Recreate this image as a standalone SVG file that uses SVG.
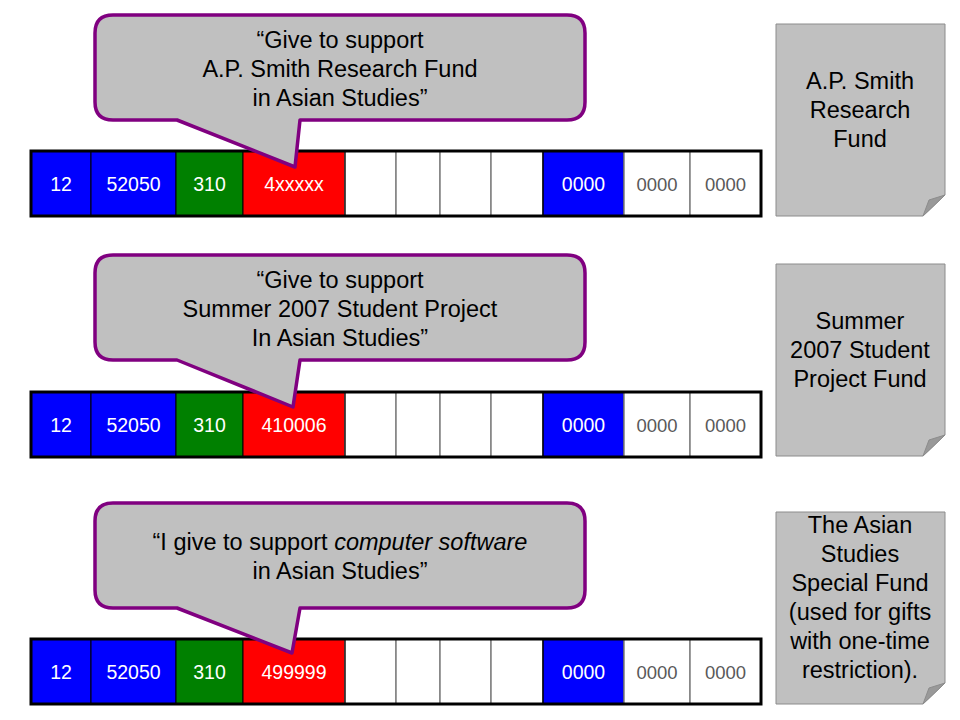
<svg xmlns="http://www.w3.org/2000/svg" width="960" height="720" viewBox="0 0 960 720">
<style>
.t{font-family:"Liberation Sans",Arial,sans-serif;text-anchor:middle}
.ct{font-size:19.5px;fill:#fff}
.cg{font-size:18.5px;fill:#595959}
.big{font-size:23.5px;fill:#000}
.blue{fill:#0000FF;stroke:#000;stroke-width:1}
.green{fill:#008000;stroke:#000;stroke-width:1}
.red{fill:#FF0000;stroke:#000;stroke-width:1}
.white{fill:#fff;stroke:#808080;stroke-width:1.5}
.frame{fill:none;stroke:#000;stroke-width:3}
.callout{fill:#C0C0C0;stroke:#800080;stroke-width:3.5;stroke-linejoin:round}
.note{fill:#C0C0C0;stroke:#8c8c8c;stroke-width:1}
.fold{fill:#999;stroke:#8c8c8c;stroke-width:1}
</style>
<defs>
<g id="cells">
<rect class="blue" x="31" y="0" width="60" height="65"/>
<rect class="blue" x="91" y="0" width="85" height="65"/>
<rect class="green" x="176" y="0" width="67" height="65"/>
<rect class="red" x="243" y="0" width="102" height="65"/>
<rect class="white" x="345" y="0" width="51" height="65"/>
<rect class="white" x="396" y="0" width="44" height="65"/>
<rect class="white" x="440" y="0" width="51" height="65"/>
<rect class="white" x="491" y="0" width="52" height="65"/>
<rect class="blue" x="543" y="0" width="81" height="65"/>
<rect class="white" x="624" y="0" width="66" height="65"/>
<rect class="white" x="690" y="0" width="71" height="65"/>
<line x1="345" y1="0" x2="345" y2="65" stroke="#000" stroke-width="1"/>
<line x1="543" y1="0" x2="543" y2="65" stroke="#000" stroke-width="1"/>
<rect class="frame" x="31" y="0" width="730" height="65"/>
<text class="t ct" x="61" y="40">12</text>
<text class="t ct" x="133.5" y="40">52050</text>
<text class="t ct" x="209.5" y="40">310</text>
<text class="t ct" x="583.5" y="40">0000</text>
<text class="t cg" x="657" y="40">0000</text>
<text class="t cg" x="725.5" y="40">0000</text>
</g>
</defs>

<g id="row1">
<use href="#cells" transform="translate(0,151)"/>
<text class="t ct" x="294" y="191">4xxxxx</text>
</g>
<g id="row2">
<use href="#cells" transform="translate(0,392)"/>
<text class="t ct" x="294" y="432">410006</text>
</g>
<g id="row3">
<use href="#cells" transform="translate(0,639)"/>
<text class="t ct" x="294" y="679">499999</text>
</g>

<g id="callout1">
<path class="callout" d="M113,15 H567 Q585,15 585,33 V102 Q585,120 567,120 H300 L295,167 L177,120 H113 Q95,120 95,102 V33 Q95,15 113,15 Z"/>
<text class="t big" x="340" y="48">“Give to support</text>
<text class="t big" x="340" y="77">A.P. Smith Research Fund</text>
<text class="t big" x="340" y="106">in Asian Studies”</text>
</g>
<g id="callout2">
<path class="callout" d="M113,255 H567 Q585,255 585,273 V342 Q585,360 567,360 H300 L293,407 L177,360 H113 Q95,360 95,342 V273 Q95,255 113,255 Z"/>
<text class="t big" x="340" y="288">“Give to support</text>
<text class="t big" x="340" y="317">Summer 2007 Student Project</text>
<text class="t big" x="340" y="346">In Asian Studies”</text>
</g>
<g id="callout3">
<path class="callout" d="M113,503 H567 Q585,503 585,521 V590 Q585,608 567,608 H300 L292,653 L177,608 H113 Q95,608 95,590 V521 Q95,503 113,503 Z"/>
<text class="t big" x="340" y="550">“I give to support <tspan font-style="italic">computer software</tspan></text>
<text class="t big" x="340" y="579">in Asian Studies”</text>
</g>

<g id="note1">
<path class="note" d="M776,24 H945 V195 L923,216 H776 Z"/>
<path class="fold" d="M923,216 L929,200 L945,195 Z"/>
<text class="t big" x="860" y="89">A.P. Smith</text>
<text class="t big" x="860" y="118">Research</text>
<text class="t big" x="860" y="147">Fund</text>
</g>
<g id="note2">
<path class="note" d="M776,264 H945 V435 L923,456 H776 Z"/>
<path class="fold" d="M923,456 L929,440 L945,435 Z"/>
<text class="t big" x="860" y="329">Summer</text>
<text class="t big" x="860" y="358">2007 Student</text>
<text class="t big" x="860" y="387">Project Fund</text>
</g>
<g id="note3">
<path class="note" d="M776,512 H945 V683 L923,704 H776 Z"/>
<path class="fold" d="M923,704 L929,688 L945,683 Z"/>
<text class="t big" x="860" y="533">The Asian</text>
<text class="t big" x="860" y="562">Studies</text>
<text class="t big" x="860" y="591">Special Fund</text>
<text class="t big" x="860" y="620">(used for gifts</text>
<text class="t big" x="860" y="649">with one-time</text>
<text class="t big" x="860" y="678">restriction).</text>
</g>
</svg>
